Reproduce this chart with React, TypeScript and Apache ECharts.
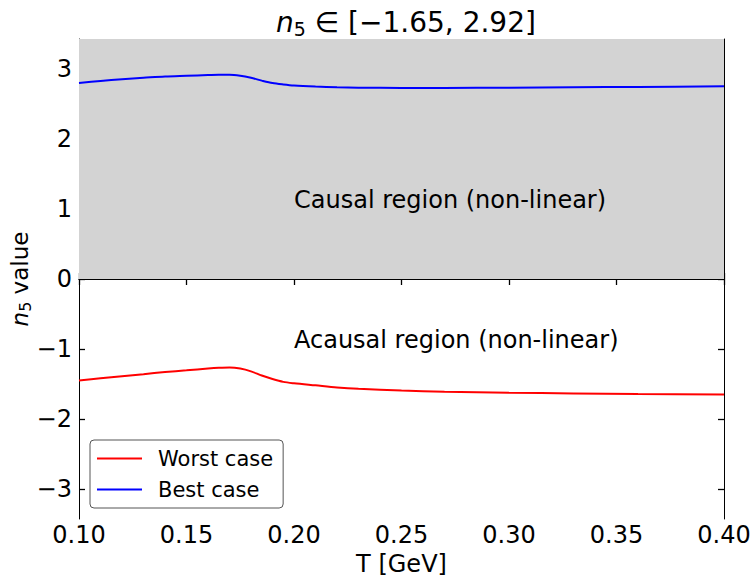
import React, { useEffect, useRef } from "react";
import * as echarts from "echarts";

const T = [0.10, 0.11, 0.12, 0.13, 0.14, 0.15, 0.16, 0.165, 0.17, 0.175, 0.18, 0.185, 0.19, 0.195, 0.20, 0.21, 0.22, 0.23, 0.25, 0.27, 0.30, 0.33, 0.36, 0.40];
const bestCase = [2.80, 2.83, 2.855, 2.875, 2.895, 2.905, 2.915, 2.92, 2.92, 2.905, 2.875, 2.835, 2.80, 2.78, 2.765, 2.75, 2.74, 2.735, 2.73, 2.73, 2.735, 2.74, 2.745, 2.755];
const worstCase = [-1.45, -1.42, -1.39, -1.36, -1.33, -1.305, -1.28, -1.27, -1.265, -1.28, -1.32, -1.38, -1.43, -1.47, -1.49, -1.52, -1.55, -1.57, -1.595, -1.61, -1.625, -1.635, -1.643, -1.65];
const yTicks = [-3, -2, -1, 0, 1, 2, 3];
const X_MIN = 0.1;
const X_MAX = 0.4;
const Y_MIN = -3.43;
const Y_MAX = 3.43;
const annotations = [
  { name: "Causal region (non-linear)", value: [0.2, 1.0] },
  { name: "Acausal region (non-linear)", value: [0.2, -1.0] },
];

const FONT = "DejaVu Sans";

export default function App() {
  const ref = useRef<HTMLDivElement>(null);
  useEffect(() => {
    if (!ref.current) return;
    const chart = echarts.init(ref.current, null, { renderer: "svg" });
    const axisLine = { show: true, lineStyle: { color: "#000", width: 1 } };
    const axisTick = { show: true, inside: true, length: 6, lineStyle: { color: "#000", width: 1.3 } };
    const fmtY = (v: number) => String(Math.round(v)).replace("-", "\u2212");
    chart.setOption({
      animation: false,
      backgroundColor: "#fff",
      textStyle: { fontFamily: FONT },
      title: {
        text: "{i|n}{s|5}{r| \u2208 [\u22121.65, 2.92]}",
        left: 401,
        textAlign: "center",
        top: 2,
        textStyle: {
          fontWeight: "normal",
          rich: {
            i: { fontSize: 28, fontStyle: "italic", fontWeight: "normal", fontFamily: FONT, color: "#000" },
            s: { fontSize: 19, fontWeight: "normal", fontFamily: FONT, color: "#000", padding: [12, 0, 0, 0] },
            r: { fontSize: 28, fontWeight: "normal", fontFamily: FONT, color: "#000" },
          },
        },
      },
      graphic: [
        {
          type: "text",
          x: 20,
          y: 279,
          rotation: Math.PI / 2,
          style: {
            text: "{i|n}{s|5}{r| value}",
            align: "center",
            verticalAlign: "middle",
            rich: {
              i: { fontSize: 23, fontStyle: "italic", fontFamily: FONT, fill: "#000", color: "#000" },
              s: { fontSize: 16, fontFamily: FONT, fill: "#000", color: "#000", padding: [11, 0, 0, 0] },
              r: { fontSize: 23, fontFamily: FONT, fill: "#000", color: "#000" },
            },
          },
        },
      ],
      grid: { left: 79, right: 29, top: 39, bottom: 58, containLabel: false, outerBoundsMode: "none" },
      legend: {
        orient: "vertical",
        left: 90,
        top: 440,
        data: ["Worst case", "Best case"],
        icon: "rect",
        itemWidth: 45,
        itemHeight: 2,
        itemGap: 10,
        padding: [8, 10, 8, 7],
        backgroundColor: "#fff",
        borderColor: "#555",
        borderWidth: 1,
        borderRadius: 4,
        textStyle: { fontSize: 21, fontFamily: FONT, color: "#000", padding: [0, 0, 0, 11] },
      },
      xAxis: [
        {
          type: "value",
          min: X_MIN,
          max: X_MAX,
          interval: 0.05,
          name: "T [GeV]",
          nameLocation: "middle",
          nameGap: 32,
          nameTextStyle: { fontSize: 24, fontFamily: FONT, color: "#000" },
          axisLine,
          axisTick,
          splitLine: { show: false },
          axisLabel: { fontSize: 24, color: "#000", fontFamily: FONT, margin: 4, formatter: (v: number) => v.toFixed(2) },
        },
        {
          type: "value",
          position: "top",
          min: X_MIN,
          max: X_MAX,
          interval: 0.05,
          axisLine,
          axisTick,
          splitLine: { show: false },
          axisLabel: { show: false },
        },
      ],
      yAxis: [
        {
          type: "value",
          min: Y_MIN,
          max: Y_MAX,
          axisLine,
          axisTick: { ...axisTick, customValues: yTicks },
          splitLine: { show: false },
          axisLabel: { fontSize: 24, color: "#000", fontFamily: FONT, margin: 7, customValues: yTicks, formatter: fmtY },
        },
        {
          type: "value",
          position: "right",
          min: Y_MIN,
          max: Y_MAX,
          axisLine,
          axisTick: { ...axisTick, customValues: yTicks },
          splitLine: { show: false },
          axisLabel: { show: false, customValues: yTicks },
        },
      ],
      series: [
        {
          name: "Worst case",
          type: "line",
          data: T.map((t, i) => [t, worstCase[i]]),
          smooth: 0.3,
          symbol: "none",
          lineStyle: { color: "#ff0000", width: 2 },
          itemStyle: { color: "#ff0000" },
          z: 5,
          markArea: {
            silent: true,
            itemStyle: { color: "#d3d3d3" },
            data: [[{ xAxis: X_MIN, yAxis: 0 }, { xAxis: X_MAX, yAxis: Y_MAX }]],
          },
        },
        {
          name: "Best case",
          type: "line",
          data: T.map((t, i) => [t, bestCase[i]]),
          smooth: 0.3,
          symbol: "none",
          lineStyle: { color: "#0000ff", width: 2 },
          itemStyle: { color: "#0000ff" },
          z: 5,
        },
        {
          name: "labels",
          type: "scatter",
          data: annotations,
          symbolSize: 0,
          silent: true,
          z: 6,
          itemStyle: { opacity: 1 },
          label: {
            show: true,
            position: "right",
            distance: 0,
            offset: [0, -9],
            formatter: (p: any) => p.name,
            fontSize: 24,
            fontFamily: FONT,
            color: "#000",
            opacity: 1,
          },
        },
      ],
    });
    return () => chart.dispose();
  }, []);
  return <div ref={ref} style={{ width: 753, height: 577, position: "absolute", left: 0, top: 0 }} />;
}
